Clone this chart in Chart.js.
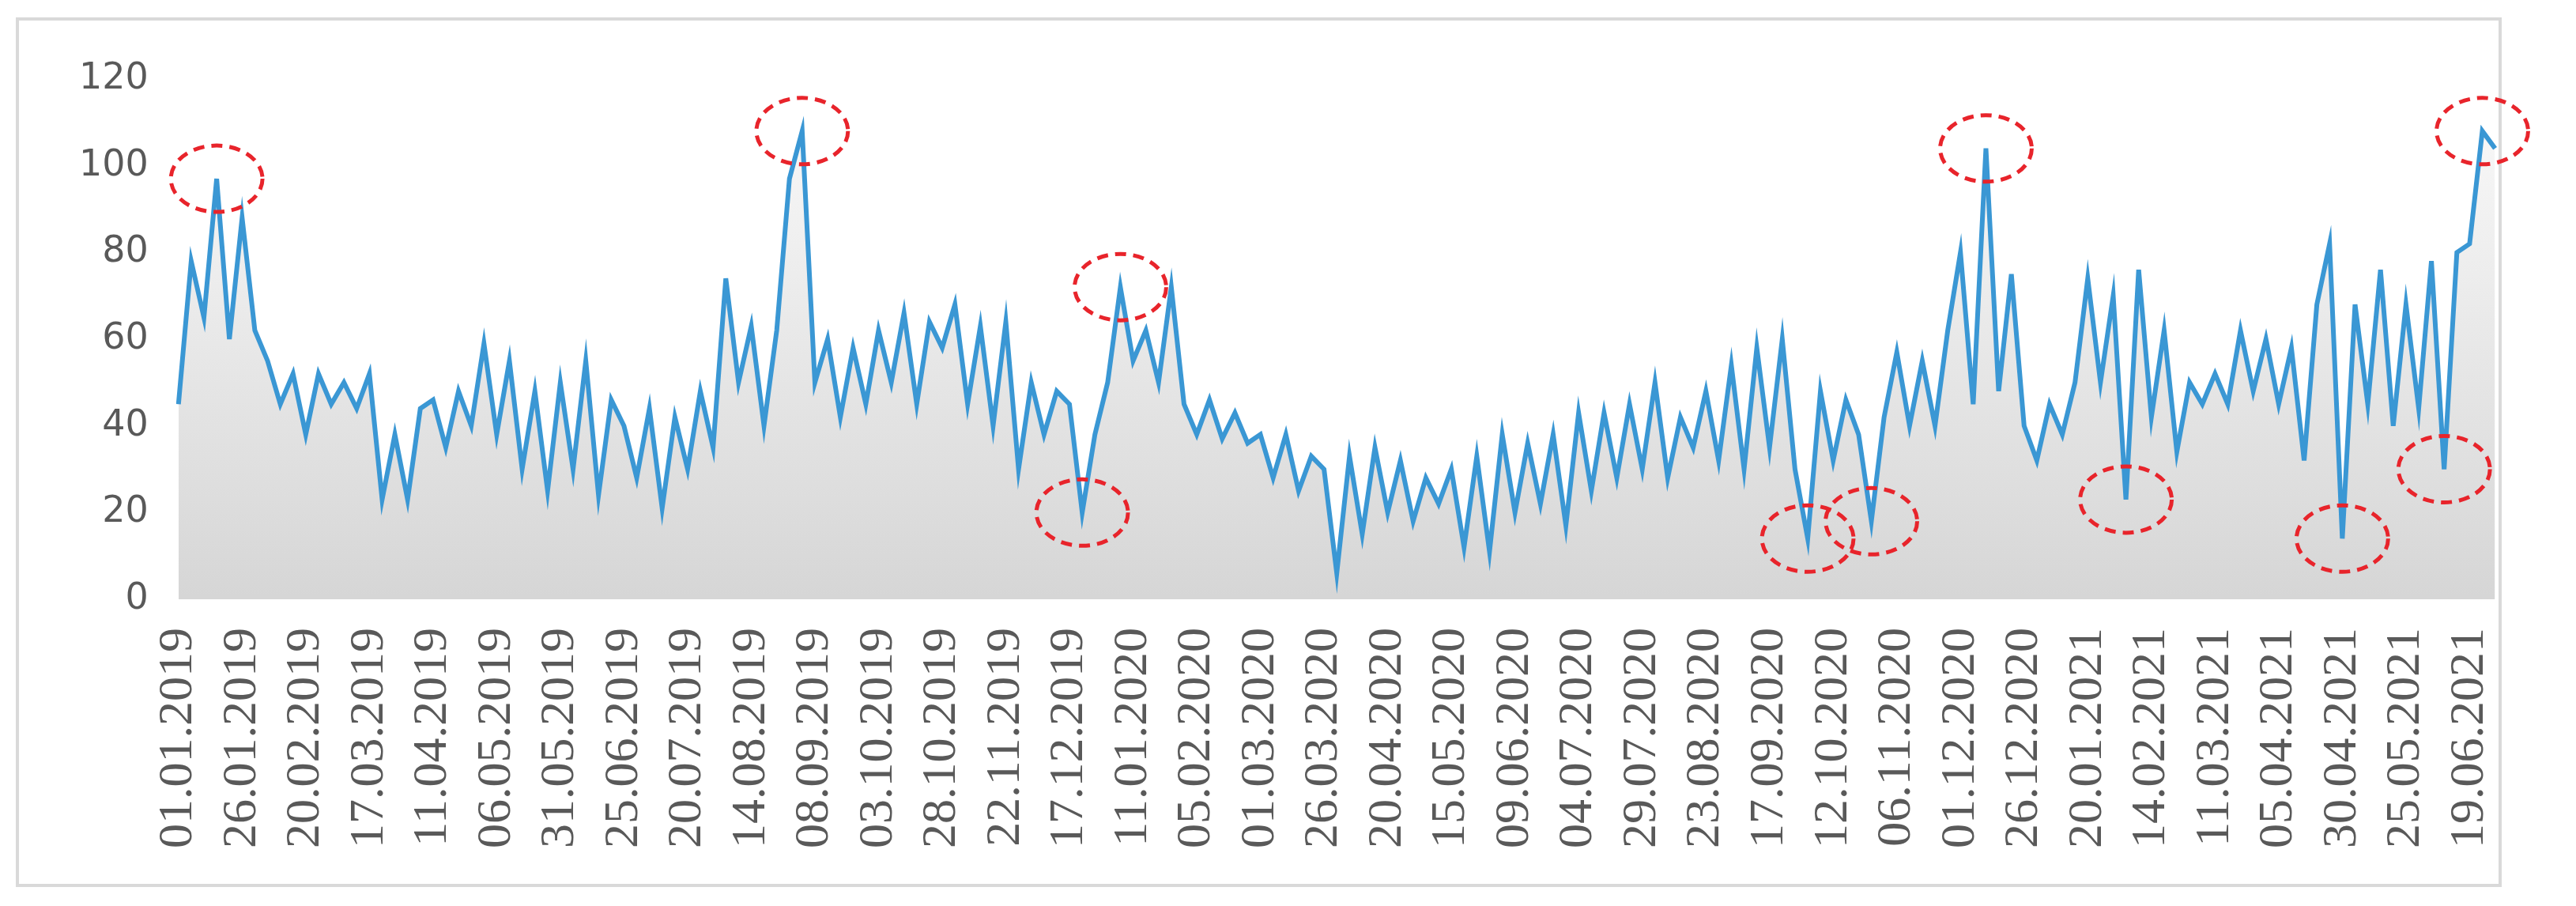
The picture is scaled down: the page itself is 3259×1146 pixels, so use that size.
<!DOCTYPE html>
<html>
<head>
<meta charset="utf-8">
<script src="https://cdn.jsdelivr.net/npm/chart.js@4/dist/chart.umd.min.js"></script>
<style>
  body { margin: 0; background: #fff; }
  #wrap { position: relative; width: 3259px; height: 1146px; }
  #frame { position: absolute; left: 20px; top: 22px; width: 3145px; height: 1100px; border: 4px solid #d9d9d9; box-sizing: border-box; }
  #c { position: absolute; left: 0; top: 0; }
</style>
</head>
<body>
<div id="wrap">
  <div id="frame"></div>
  <canvas id="c" width="3259" height="1146"></canvas>
</div>
<script>
// one sample every 5 days starting 01.01.2019
const startDate = new Date(Date.UTC(2019, 0, 1));
const stepDays = 5;
const values = [
  45, 78, 65, 97, 60,
  88, 62, 55, 45, 52,
  38, 52, 45, 50, 44,
  52, 23, 38, 23, 44,
  46, 35, 48, 40, 59,
  38, 55, 30, 48, 25,
  50, 30, 55, 24, 46,
  40, 28, 44, 21, 42,
  30, 48, 35, 74, 50,
  63, 40, 62, 97, 108,
  50, 60, 42, 58, 45,
  62, 50, 66, 45, 64,
  58, 68, 45, 63, 40,
  64, 30, 50, 38, 48,
  45, 20, 38, 50, 72,
  55, 62, 50, 72, 45,
  38, 46, 37, 43, 36,
  38, 28, 38, 25, 33,
  30, 6, 33, 15, 35,
  20, 32, 18, 28, 22,
  30, 12, 33, 11, 38,
  20, 36, 22, 38, 17,
  43, 25, 43, 28, 45,
  30, 50, 28, 42, 35,
  48, 32, 54, 30, 58,
  35, 60, 30, 14, 48,
  32, 46, 38, 18, 42,
  57, 40, 55, 40, 62,
  80, 45, 104, 48, 75,
  40, 32, 45, 38, 50,
  74, 50, 70, 23, 76,
  42, 62, 34, 50, 45,
  52, 45, 62, 48, 60,
  45, 58, 32, 68, 82,
  14, 68, 45, 76, 40,
  68, 44, 78, 30, 80,
  82, 108, 104
];
const yTicks = [0, 20, 40, 60, 80, 100, 120];
// samples marked with dashed red circles
const circledIdx = [3, 49, 71, 74, 128, 133, 142, 153, 170, 178, 181];
const labelEvery = 5; // a tick label every 25 days

function fmt(d) {
  const p = n => String(n).padStart(2, '0');
  return p(d.getUTCDate()) + '.' + p(d.getUTCMonth() + 1) + '.' + d.getUTCFullYear();
}
const labels = values.map((v, i) => fmt(new Date(startDate.getTime() + i * stepDays * 86400000)));

const circles = {
  id: 'circles',
  afterDatasetsDraw(chart) {
    const { ctx, scales: { x, y } } = chart;
    ctx.save();
    ctx.strokeStyle = '#e8242b';
    ctx.lineWidth = 5;
    ctx.setLineDash([14, 9]);
    circledIdx.forEach(i => {
      ctx.beginPath();
      ctx.ellipse(x.getPixelForValue(i), y.getPixelForValue(values[i]), 58, 42, 0, 0, Math.PI * 2);
      ctx.stroke();
    });
    ctx.restore();
  }
};

const ctx = document.getElementById('c').getContext('2d');
const grad = ctx.createLinearGradient(0, 96, 0, 755);
grad.addColorStop(0, '#fbfbfb');
grad.addColorStop(1, '#d6d6d6');

new Chart(ctx, {
  type: 'line',
  data: {
    labels: labels,
    datasets: [{
      data: values,
      borderColor: '#3a97d4',
      borderWidth: 6,
      backgroundColor: grad,
      fill: 'origin',
      pointRadius: 0,
      tension: 0
    }]
  },
  options: {
    responsive: false,
    animation: false,
    layout: { padding: { left: 70, right: 100, top: 100, bottom: 45 } },
    plugins: { legend: { display: false }, tooltip: { enabled: false } },
    scales: {
      x: {
        offset: false,
        grid: { display: false },
        border: { display: false },
        ticks: {
          autoSkip: false,
          maxRotation: 90,
          minRotation: 90,
          padding: 28,
          color: '#595959',
          font: { family: 'Liberation Sans Narrow', size: 62 },
          callback: (v, i) => i % labelEvery === 0 ? labels[i] : ''
        }
      },
      y: {
        min: 0,
        max: 120,
        afterBuildTicks: s => { s.ticks = yTicks.map(v => ({ value: v })); },
        grid: { display: false },
        border: { display: false },
        ticks: {
          color: '#595959',
          padding: 30,
          font: { family: 'DejaVu Sans', size: 46 }
        }
      }
    }
  },
  plugins: [circles]
});
</script>
</body>
</html>
